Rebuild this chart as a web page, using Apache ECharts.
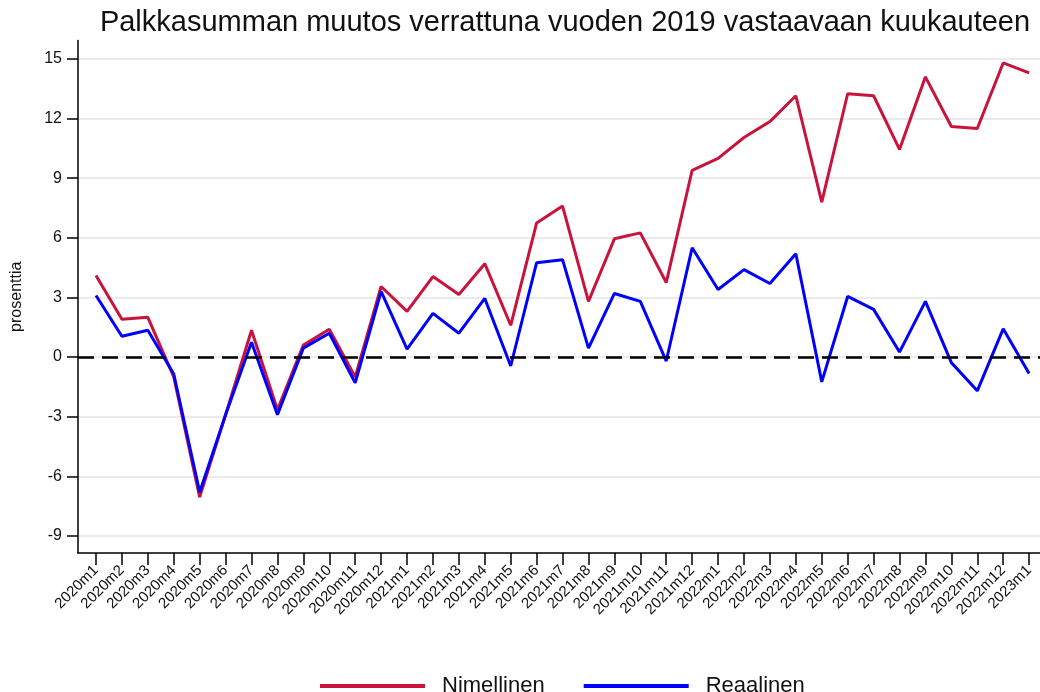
<!DOCTYPE html>
<html lang="fi">
<head>
    <meta charset="UTF-8">
    <title>Palkkasumman muutos</title>
    <script type="text/javascript" src="https://cdn.jsdelivr.net/npm/echarts@6/dist/echarts.min.js"></script>
    <style>
        html, body { margin: 0; padding: 0; background: #fff; }
        #main { width: 1040px; height: 692px; }
    </style>
</head>
<body>
<div id="main"></div>
<script>
    // kuukaudet 2020m1 ... 2023m1
    var months = ['2020m1', '2020m2', '2020m3', '2020m4', '2020m5', '2020m6', '2020m7', '2020m8', '2020m9', '2020m10', '2020m11', '2020m12',
        '2021m1', '2021m2', '2021m3', '2021m4', '2021m5', '2021m6', '2021m7', '2021m8', '2021m9', '2021m10', '2021m11', '2021m12',
        '2022m1', '2022m2', '2022m3', '2022m4', '2022m5', '2022m6', '2022m7', '2022m8', '2022m9', '2022m10', '2022m11', '2022m12',
        '2023m1'];
    var nimellinen = [4.1, 1.9, 2.0, -1.0, -7.05, -2.9, 1.35, -2.65, 0.6, 1.4, -1.0, 3.55,
        2.3, 4.05, 3.15, 4.7, 1.6, 6.75, 7.6, 2.8, 5.95, 6.25, 3.75, 9.4,
        10.0, 11.05, 11.85, 13.15, 7.8, 13.25, 13.15, 10.45, 14.1, 11.6, 11.5, 14.8,
        14.3];
    var reaalinen = [3.1, 1.05, 1.35, -0.85, -6.8, -2.9, 0.75, -2.9, 0.45, 1.2, -1.3, 3.3,
        0.4, 2.2, 1.2, 2.95, -0.45, 4.75, 4.9, 0.45, 3.2, 2.8, -0.2, 5.5,
        3.4, 4.4, 3.7, 5.2, -1.25, 3.05, 2.4, 0.25, 2.8, -0.28, -1.7, 1.42,
        -0.83];
    var yTicks = [-9, -6, -3, 0, 3, 6, 9, 12, 15];

    var font = 'Liberation Sans, Arial, sans-serif';
    var idx = months.map(function (m, i) { return i; });

    var chart = echarts.init(document.getElementById('main'));
    var option = {
        animation: false,
        backgroundColor: '#fff',
        title: {
            text: 'Palkkasumman muutos verrattuna vuoden 2019 vastaavaan kuukauteen',
            left: 560,
            textAlign: 'center',
            top: 3,
            textStyle: { fontFamily: font, fontSize: 29, fontWeight: 'normal', color: '#111' }
        },
        legend: {
            left: 315,
            top: 670,
            itemWidth: 105,
            itemHeight: 4,
            itemGap: 39,
            icon: 'rect',
            textStyle: { fontFamily: font, fontSize: 22, color: '#111', padding: [0, 0, 0, 12] },
            data: ['Nimellinen', 'Reaalinen']
        },
        grid: { left: 78, right: 0, top: 40.5, bottom: 139, outerBoundsMode: 'none' },
        xAxis: {
            type: 'value',
            min: -0.694,
            max: 36.42,
            axisLine: { onZero: false, lineStyle: { color: '#000', width: 1.5 } },
            axisTick: { customValues: idx, length: 12, lineStyle: { color: '#000', width: 1.5 } },
            axisLabel: {
                customValues: idx,
                rotate: 45,
                margin: 15,
                fontFamily: font,
                fontSize: 15,
                color: '#111',
                formatter: function (v) { return months[v]; }
            },
            splitLine: { show: false }
        },
        yAxis: {
            type: 'value',
            min: -9.86,
            max: 15.93,
            name: 'prosenttia',
            nameLocation: 'middle',
            nameGap: 53,
            nameTextStyle: { fontFamily: font, fontSize: 16, color: '#111' },
            axisLine: { show: true, onZero: false, lineStyle: { color: '#000', width: 1.5 } },
            axisTick: { show: true, customValues: yTicks, length: 11, lineStyle: { color: '#000', width: 1.5 } },
            axisLabel: { customValues: yTicks, margin: 16, fontFamily: font, fontSize: 16, color: '#111' },
            splitLine: { show: true, lineStyle: { color: '#e4e4e4', width: 1.5 } }
        },
        series: [
            {
                name: 'Nimellinen',
                type: 'line',
                symbol: 'none',
                color: '#c8143c',
                lineStyle: { width: 3 },
                data: nimellinen.map(function (v, i) { return [i, v]; }),
                markLine: {
                    silent: true,
                    symbol: 'none',
                    label: { show: false },
                    lineStyle: { color: '#000', width: 2.5, type: [16, 8] },
                    data: [{ yAxis: 0 }]
                }
            },
            {
                name: 'Reaalinen',
                type: 'line',
                symbol: 'none',
                color: '#0000ff',
                lineStyle: { width: 3 },
                data: reaalinen.map(function (v, i) { return [i, v]; })
            }
        ]
    };
    chart.setOption(option);
</script>
</body>
</html>
